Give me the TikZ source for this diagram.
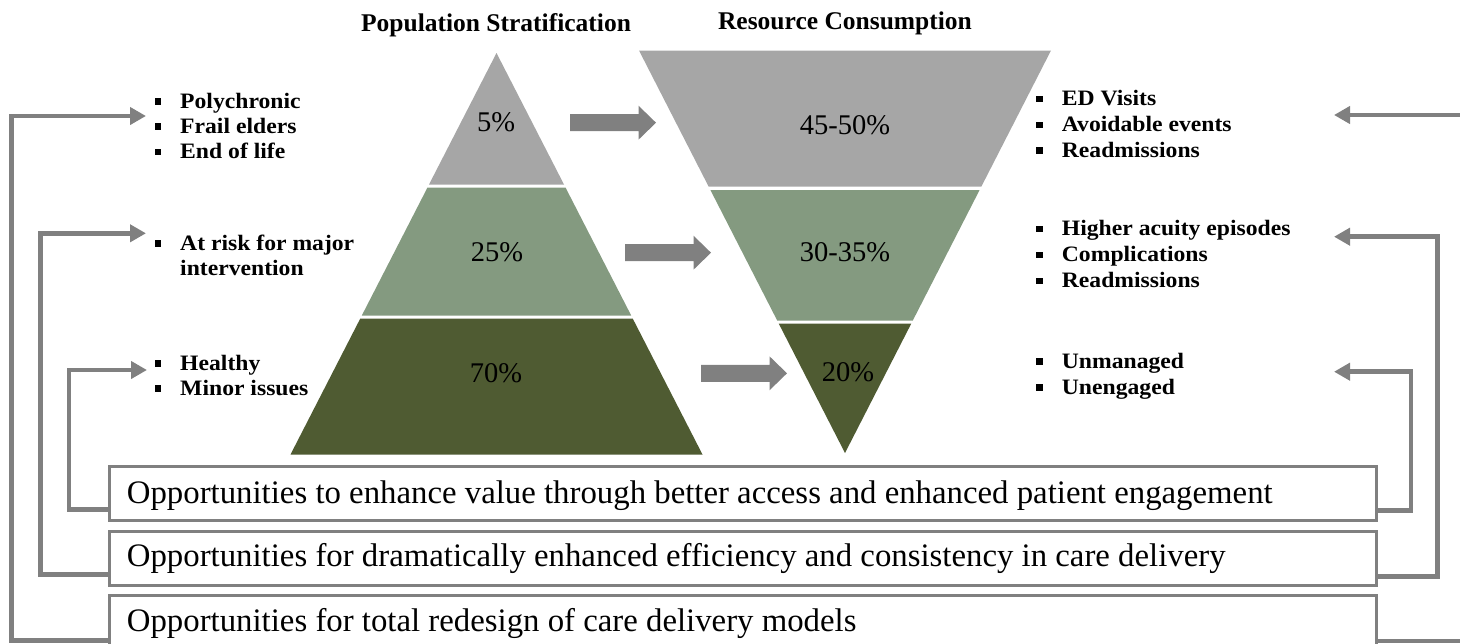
\documentclass[tikz,border=0pt]{standalone}
\usepackage{fontspec}
\setmainfont{Liberation Serif}
\newfontfamily\widefont{Liberation Serif}[FakeStretch=1.075]
\usetikzlibrary{arrows.meta}
\definecolor{cgray}{HTML}{A6A6A6}
\definecolor{cgreen}{HTML}{849A80}
\definecolor{colive}{HTML}{4F5B32}
\definecolor{cline}{HTML}{808080}
\tikzset{
  conn/.style={draw=cline, line width=4.5pt, -{Triangle[length=16pt,width=17pt]}},
  blockarrow/.style={fill=cline, draw=none},
  oppbox/.style={draw=cline, line width=3pt, fill=white, anchor=north west, inner sep=0pt},
  opptext/.style={anchor=base west, inner sep=0pt, font=\fontsize{32.8}{36}\selectfont},
  pct/.style={anchor=base, inner sep=0pt, font=\fontsize{28.5}{32}\selectfont},
  title/.style={anchor=base, inner sep=0pt, font=\bfseries\fontsize{25.5}{28}\selectfont},
  blist/.style={anchor=base west, inner sep=0pt, font=\widefont\bfseries\fontsize{22}{25.5}\selectfont, align=left},
  bul/.style={fill=black, minimum size=6.5pt, inner sep=0pt, draw=none}
}
\begin{document}
\begin{tikzpicture}[x=1pt,y=-1pt]
\useasboundingbox (0,0) rectangle (1460,643);
% titles
\node[title] (t1) at (496,31.5) {Population Stratification};
\node[title] (t2) at (845,29.3) {Resource Consumption};
% left pyramid
\fill[cgray] (496.5,53) -- (564,184.5) -- (429,184.5) -- cycle;
\fill[cgreen] (427.5,187.5) -- (565.5,187.5) -- (631.2,315.5) -- (361.8,315.5) -- cycle;
\fill[colive] (360.3,318.5) -- (632.7,318.5) -- (702.5,454.5) -- (290.5,454.5) -- cycle;
\node[pct] (p1) at (496,131.7) {5\%};
\node[pct] (p2) at (497,261.7) {25\%};
\node[pct] (p3) at (496,382.7) {70\%};
% right inverted pyramid
\fill[cgray] (639,50.5) -- (1051,50.5) -- (981.4,186.5) -- (708.6,186.5) -- cycle;
\fill[cgreen] (710.4,190) -- (979.6,190) -- (912.8,320.5) -- (777.2,320.5) -- cycle;
\fill[colive] (778.7,323.5) -- (911.3,323.5) -- (845,453) -- cycle;
\node[pct] (r1) at (845,134) {45-50\%};
\node[pct] (r2) at (845,261.7) {30-35\%};
\node[pct] (r3) at (848,381) {20\%};
% block arrows
\foreach \xs/\yc in {570/122.7, 625/252.7, 701/373.3}{
  \fill[blockarrow] (\xs,\yc-8.5) -- (\xs+68.5,\yc-8.5) -- (\xs+68.5,\yc-17) -- (\xs+86,\yc) -- (\xs+68.5,\yc+17) -- (\xs+68.5,\yc+8.5) -- (\xs,\yc+8.5) -- cycle;
}
% left lists
\node[blist] (l1a) at (180,108.3) {Polychronic};
\node[blist] (l1b) at (180,133.3) {Frail elders};
\node[blist] (l1c) at (180,158.7) {End of life};
\node[blist] (l2a) at (180,250) {At risk for major};
\node[blist] (l2b) at (180,275) {intervention};
\node[blist] (l3a) at (180,370) {Healthy};
\node[blist] (l3b) at (180,395) {Minor issues};
\foreach \n in {l1a,l1b,l1c,l2a,l3a,l3b}{
  \node[bul] at ([xshift=-22pt,yshift=6.6pt]\n.base west) {};
}
% right lists
\node[blist] (m1a) at (1061.7,105.5) {ED Visits};
\node[blist] (m1b) at (1061.7,131.5) {Avoidable events};
\node[blist] (m1c) at (1061.7,157.3) {Readmissions};
\node[blist] (m2a) at (1061.7,235.7) {Higher acuity episodes};
\node[blist] (m2b) at (1061.7,261.7) {Complications};
\node[blist] (m2c) at (1061.7,287.7) {Readmissions};
\node[blist] (m3a) at (1061.7,368.3) {Unmanaged};
\node[blist] (m3b) at (1061.7,394.3) {Unengaged};
\foreach \n in {m1a,m1b,m1c,m2a,m2b,m2c,m3a,m3b}{
  \node[bul] at ([xshift=-22pt,yshift=6.6pt]\n.base west) {};
}
% opportunity boxes
\node[oppbox, minimum width=1267.5pt, minimum height=54.8pt] (b1) at (107.5,464.5) {};
\node[oppbox, minimum width=1267.5pt, minimum height=54pt] (b2) at (107.5,530) {};
\node[oppbox, minimum width=1267.5pt, minimum height=80pt] (b3) at (107.5,594) {};
\node[opptext] (o1) at (126.7,503.3) {Opportunities to enhance value through better access and enhanced patient engagement};
\node[opptext] (o2) at (126.7,566.7) {Opportunities for dramatically enhanced efficiency and consistency in care delivery};
\node[opptext] (o3) at (126.7,631.7) {Opportunities for total redesign of care delivery models};
% arrow endpoints
\coordinate (aL1) at (146,116);
\coordinate (aL2) at (146,233.3);
\coordinate (aL3) at (147,370);
\coordinate (aR1) at (1334,115);
\coordinate (aR2) at (1334,236.7);
\coordinate (aR3) at (1334,371.7);
\coordinate (cL1) at (11.7,116);
\coordinate (cL2) at (40.5,233.3);
\coordinate (cL3) at (69,370);
\coordinate (cR1) at (1470,115);
\coordinate (cR2) at (1437.7,236.7);
\coordinate (cR3) at (1410.8,371.7);
% connectors left
\draw[conn] (b3.west |- 0,640.7) -| (cL1) -- (aL1);
\draw[conn] (b2.west |- 0,574.3) -| (cL2) -- (aL2);
\draw[conn] (b1.west |- 0,509.3) -| (cL3) -- (aL3);
% connectors right
\draw[conn] (b3.east |- 0,641) -| (cR1) -- (aR1);
\draw[conn] (b2.east |- 0,576.7) -| (cR2) -- (aR2);
\draw[conn] (b1.east |- 0,510.7) -| (cR3) -- (aR3);
\end{tikzpicture}
\end{document}
